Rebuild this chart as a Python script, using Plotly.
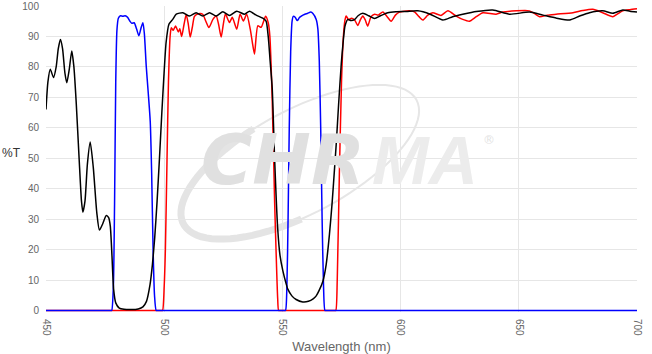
import numpy as np
import plotly.graph_objects as go

# ---------------- data ----------------
black_nm = [450, 450.8, 451.8, 453.2, 454.3, 455.2, 456.1, 457, 458, 458.8, 459.8, 460.9, 461.8,
            462.8, 464, 465, 465.6, 466.5, 467.5, 468.7, 470, 471.5, 472.6, 474, 475.5, 476.5,
            477.2, 477.9, 478.6, 479.5, 481, 483, 486, 489, 491, 492.5, 494, 495, 496, 497, 498,
            499, 499.8, 500.8, 502, 503.6, 505.1, 507.9, 510.7, 513.5, 516.3, 519.2, 522, 524.8,
            527.6, 530.7, 534, 536.1, 538.9, 541.7, 543.1, 544, 544.8, 545.7, 546.7, 548, 549,
            550.2, 551.5, 552.3, 554, 555.8, 558.6, 561, 563, 564.3, 565.5, 567.1, 568.5, 569.9,
            571, 572, 572.8, 573.8, 574.9, 575.8, 576.5, 577.7, 579, 580.5, 582, 584, 586.5, 589,
            591.5, 594.6, 598, 602.4, 607.3, 612.5, 617.9, 622, 626.3, 632, 639, 646.1, 654.5,
            660.2, 666, 671.5, 676, 679.9, 685.5, 689.8, 694, 697, 700]
black_t = [66, 75, 79.2, 76.5, 80, 86, 89, 86, 78, 74.8, 79, 85.2, 80,
           68, 50, 36, 32.3, 36, 48, 55.3, 47, 32, 26.4, 28.5, 31.2, 30.5,
           27.7, 18, 7, 2.5, 0.8, 0.4, 0.3, 0.5, 1.2, 3, 8.5, 15, 24, 36, 50,
           65, 76, 88, 94, 95.6, 97.3, 97.8, 96.7, 97.8, 96.7, 97.8, 96.7, 98.1,
           96.9, 98.3, 97.3, 98.3, 97, 96, 95, 90, 82, 73, 50, 27, 18,
           13, 9, 7, 4.8, 3.6, 2.8, 3, 3.8, 4.8, 6.5, 9.5, 15, 25,
           35, 46, 55, 68, 81, 89, 93.5, 95.6, 95.2, 95.5, 96.8, 97.6, 96.8, 95.9,
           96.8, 97.8, 98.1, 98.2, 98.4, 97.3, 95.4, 96.5, 97.3, 98.2, 98.7, 97.3, 98.0,
           97.0, 96.0, 95.4, 96.8, 97.8, 98.4, 97.6, 98.7, 98.3, 98.0]

red_nm = [450, 460, 470, 480, 490, 495, 497.5, 498.7, 499.3, 500, 500.5, 501.2, 501.8, 502.5, 503,
          503.8, 504.8, 506, 506.6, 507.4, 508.4,
          509.3, 510.2, 511, 512, 512.8, 514.6, 516.3, 517.6, 518.9, 520.6, 522, 523, 524.1, 525,
          525.9, 527.6, 528.8, 530.7, 532.1, 533.5, 534.9, 536.4, 537.3, 538.2, 539.6, 541, 542.9,
          544, 544.7, 545.7, 546.7, 547.5, 548, 548.4, 549, 550, 555, 560, 565, 570, 571.5, 572.1,
          572.6, 573.2, 574.1, 575, 575.8, 576.5, 577,
          578, 579.2, 580.5, 581.9, 583, 584, 585, 586.1, 587.5, 589, 590.5, 592.5, 594.3, 596,
          597.8, 599.5, 603.7, 606, 607.8, 609.4, 611.5, 613.6, 617.1, 620, 623.5, 626.3, 629.1,
          632, 634.8, 640.4, 643.2, 649, 654.5, 656.7, 658.8, 662, 665.8, 672.9, 677, 681.3,
          685.5, 689.8, 692, 694, 697, 700]
red_t = [0, 0, 0, 0, 0, 0, 0, 0, 0, 8, 20, 50, 75, 90, 92.9,
         92, 93.4, 91.5, 92.5, 90, 94,
         97.2, 94, 89.8, 93.5, 96.6, 97.5, 97.3, 95, 92.9, 95.6, 96.7, 94, 89.8, 94,
         97.4, 94.6, 96.3, 92.4, 97.3, 95.1, 97.3, 92.4, 88, 84.2, 93.5, 93, 96.6,
         94.5, 90, 69, 36, 15, 4, 0, 0, 0, 0, 0, 0, 0, 0, 0,
         0, 10, 45, 75, 90, 95.5, 96.7,
         95.5, 96, 95.5, 93.6, 95.5, 96.7, 95.5, 93.4, 96.5, 97.3, 97.0, 98, 96.5, 95,
         97, 98, 98.4, 98.0, 96.5, 95.4, 97, 97.8, 96.9, 98.4, 96.7, 95.6, 95,
         96.5, 97.8, 97.3, 98, 98.4, 98.4, 97.5, 96.5, 97, 97.3, 97.8, 98.5, 98.9,
         97.8, 96.5, 97.5, 98.4, 98.8, 99.1]

blue_nm = [450, 460, 470, 475, 476.8, 477.4, 477.8, 478.5, 479, 479.5, 480, 480.6, 481.5, 482.5,
           483.5, 484.5, 485.5, 486.3,
           487.3, 488.3, 489.3, 490.2, 491, 491.6, 492.4, 493.2, 494.1, 494.7, 495.3, 495.9,
           496.6, 497.2, 498, 505, 520, 535, 545, 549.5, 550.5, 551.3, 551.9, 552.4, 552.9, 553.5,
           554.1, 554.6, 555.4, 556.3, 557.2, 558,
           559.5, 560.7, 562, 562.9, 564.3, 565, 565.6, 566.2, 566.8, 567.4, 568, 568.6, 569.5,
           575, 600, 650, 700]
blue_t = [0, 0, 0, 0, 0, 0, 0, 8, 35, 75, 92, 96, 96.8, 96.6,
          96.8, 96.3, 95, 94.3,
          94.5, 92.5, 90.2, 92.8, 94.5, 91, 80.3, 72, 62, 45, 20, 5,
          0, 0, 0, 0, 0, 0, 0, 0, 0, 0, 8, 30, 60, 85,
          95, 96.6, 96.3, 95.2, 96.2, 96.7,
          97.3, 97.6, 98, 97.5, 95.6, 92.5, 82, 60, 30, 8, 0, 0, 0,
          0, 0, 0, 0]

x_ticks = [450, 500, 550, 600, 650, 700]
y_ticks = [0, 10, 20, 30, 40, 50, 60, 70, 80, 90, 100]

# ---------------- figure ----------------
fig = go.Figure()
for xs, ys, col in [(red_nm, red_t, "#ff0000"), (blue_nm, blue_t, "#0000ff"), (black_nm, black_t, "#000000")]:
    fig.add_trace(go.Scatter(x=xs, y=ys, mode="lines",
                             line=dict(color=col, width=1.5, shape="spline", smoothing=0.6),
                             hoverinfo="skip", showlegend=False))

L, R, T, B = 46, 15, 6, 42
W, H = 652, 354
pw, ph = W - L - R, H - T - B

def px(x):
    return (x - L) / pw

def py(y):
    return (H - B - y) / ph

annotations = []
# watermark
annotations.append(dict(text="<b><i>CHR</i></b>", x=px(283), y=py(160), xref="paper", yref="paper",
                        showarrow=False, xanchor="center", yanchor="middle",
                        font=dict(family="DejaVu Sans", size=70, color="#e0e0e0")))
annotations.append(dict(text="<b><i>MA</i></b>", x=px(425), y=py(160), xref="paper", yref="paper",
                        showarrow=False, xanchor="center", yanchor="middle",
                        font=dict(family="Liberation Sans", size=68, color="#ececec")))
annotations.append(dict(text="®", x=px(489), y=py(140), xref="paper", yref="paper", showarrow=False,
                        xanchor="center", yanchor="middle",
                        font=dict(family="DejaVu Sans", size=12, color="#e3e3e3")))
annotations.append(dict(text="%T", x=px(11), y=py(153), xref="paper", yref="paper", showarrow=False,
                        xanchor="center", yanchor="middle",
                        font=dict(family="Liberation Sans, Arial", size=12, color="#333333")))

# swoosh ellipse
t = np.linspace(0, 2 * np.pi, 90)
cxp, cyp, a, b, rot = 300, 162, 132, 52, np.deg2rad(-28)
ex = cxp + a * np.cos(t) * np.cos(rot) - b * np.sin(t) * np.sin(rot)
ey = cyp + a * np.cos(t) * np.sin(rot) + b * np.sin(t) * np.cos(rot)
path = "M " + " L ".join(f"{px(u):.4f},{py(v):.4f}" for u, v in zip(ex, ey)) + " Z"
shapes = [dict(type="path", path=path, xref="paper", yref="paper", layer="below",
               line=dict(color="#e6e6e6", width=2))]
sel = (t > np.pi * 0.55) & (t < np.pi * 1.45)
path2 = "M " + " L ".join(f"{px(u):.4f},{py(v):.4f}" for u, v in zip(ex[sel], ey[sel]))
shapes.append(dict(type="path", path=path2, xref="paper", yref="paper", layer="below",
                   line=dict(color="#e4e4e4", width=7)))

fig.update_layout(
    width=W, height=H,
    margin=dict(l=L, r=R, t=T, b=B, pad=0, autoexpand=False),
    paper_bgcolor="white", plot_bgcolor="white",
    font=dict(family="Liberation Sans, Arial", color="#666666"),
    annotations=annotations,
    shapes=shapes,
    xaxis=dict(range=[450, 700], tickvals=x_ticks, ticktext=[str(v) for v in x_ticks],
               tickangle=90, tickfont=dict(size=10, color="#666666"),
               showgrid=True, gridcolor="#e6e6e6", gridwidth=1, zeroline=False,
               showline=False, ticks="", ticklabelstandoff=6, automargin=False,
               title=dict(text="Wavelength (nm)", font=dict(size=13, color="#666666"), standoff=6)),
    yaxis=dict(range=[-0.5, 100], tickvals=y_ticks, tickfont=dict(size=10, color="#666666"),
               showgrid=True, gridcolor="#e6e6e6", gridwidth=1, zeroline=False,
               showline=False, ticks="", ticklabelstandoff=6, automargin=False),
)

fig.write_html("out.html")
